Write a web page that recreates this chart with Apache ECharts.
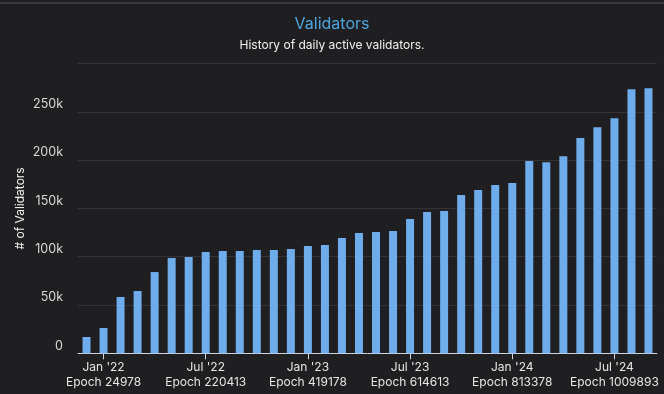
<!DOCTYPE html>
<html>
<head>
<meta charset="utf-8">
<script src="https://cdn.jsdelivr.net/npm/echarts@6/dist/echarts.min.js"></script>
<style>
html,body{margin:0;padding:0;background:#1f1e21;}
#top{position:absolute;left:0;top:2px;width:664px;height:2px;background:#3a393d;}
#c{width:664px;height:394px;}
</style>
</head>
<body>
<div id="top"></div>
<div id="c"></div>
<script>
const months = ["Dec '21","Jan '22","Feb '22","Mar '22","Apr '22","May '22","Jun '22","Jul '22","Aug '22","Sep '22","Oct '22","Nov '22","Dec '22","Jan '23","Feb '23","Mar '23","Apr '23","May '23","Jun '23","Jul '23","Aug '23","Sep '23","Oct '23","Nov '23","Dec '23","Jan '24","Feb '24","Mar '24","Apr '24","May '24","Jun '24","Jul '24","Aug '24","Sep '24"];
const validators = [16900,26200,58300,64500,84100,98600,99700,104800,105900,105900,106900,106900,107900,111000,112100,119300,124500,125500,126600,139000,146200,147200,163800,169000,174100,176200,199000,197900,204100,222800,234100,243400,273400,274500];
const tickMonths = ["Jan '22","Jul '22","Jan '23","Jul '23","Jan '24","Jul '24"];
const tickEpochs = ["24978","220413","419178","614613","813378","1009893"];

const chart = echarts.init(document.getElementById('c'), null, {renderer:'canvas'});
const font = 'Inter, "Noto Sans", sans-serif';
const isTick = (i, v) => tickMonths.indexOf(v) >= 0;
chart.setOption({
  backgroundColor: 'transparent',
  textStyle: {fontFamily: font},
  title: {
    text: 'Validators',
    subtext: 'History of daily active validators.',
    left: 'center',
    top: 11,
    itemGap: 7,
    textStyle: {color: '#4ea6df', fontSize: 16, fontWeight: 'normal', fontFamily: font},
    subtextStyle: {color: '#f2f2f2', fontSize: 12, fontFamily: font}
  },
  grid: {left: 78, right: 7, top: 63.5, bottom: 40.7},
  xAxis: {
    type: 'category',
    data: months,
    boundaryGap: true,
    axisLine: {lineStyle: {color: '#d0d4e0', width: 1}},
    axisTick: {show: true, alignWithLabel: true, interval: isTick, length: 6, lineStyle: {color: '#d0d4e0'}},
    axisLabel: {
      interval: isTick,
      color: '#e6e6e6',
      fontSize: 12,
      lineHeight: 15,
      margin: 7,
      formatter: v => { const k = tickMonths.indexOf(v); return v + '\nEpoch ' + tickEpochs[k]; }
    },
    splitLine: {show: false}
  },
  yAxis: {
    type: 'value',
    min: 0, max: 300000, interval: 50000,
    name: '# of Validators',
    nameLocation: 'middle',
    nameGap: 52,
    nameMoveOverlap: false,
    nameRotate: 90,
    nameTextStyle: {color: '#f2f2f2', fontSize: 12, fontFamily: font},
    axisLine: {show: false},
    axisTick: {show: false},
    axisLabel: {
      color: '#d8d8d8', fontSize: 12.5, margin: 15, verticalAlign: 'bottom', padding: [0,0,1,0],
      showMaxLabel: false,
      formatter: v => v === 0 ? '0' : (v >= 300000 ? '' : (v/1000) + 'k')
    },
    splitLine: {lineStyle: {color: '#363236', width: 1}}
  },
  series: [{
    type: 'bar',
    data: validators,
    barWidth: 8,
    itemStyle: {color: '#6eaceb'},
    animation: false
  }],
  animation: false
});
</script>
</body>
</html>
